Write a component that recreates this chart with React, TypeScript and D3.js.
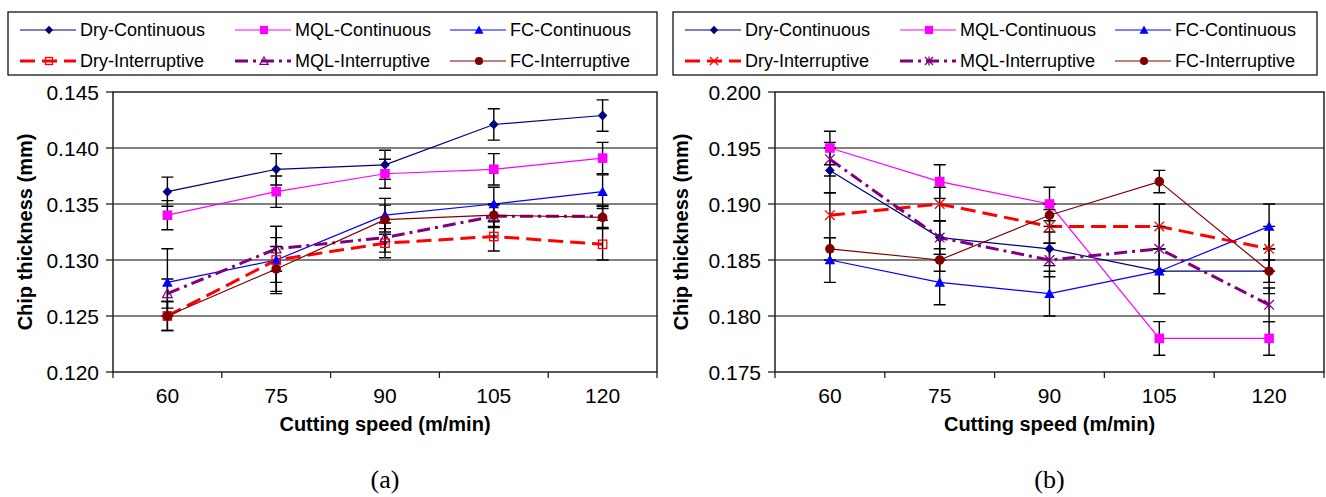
import React from 'react';
import * as d3 from 'd3';

// Cutting speeds (m/min)
const speeds = ['60', '75', '90', '105', '120'];
const seriesNames = [
  'Dry-Continuous',
  'MQL-Continuous',
  'FC-Continuous',
  'Dry-Interruptive',
  'MQL-Interruptive',
  'FC-Interruptive',
];

// Panel (a): chip thickness (mm) and error half-widths
const dryContA = [0.1361, 0.1381, 0.1385, 0.1421, 0.1429];
const mqlContA = [0.134, 0.1361, 0.1377, 0.1381, 0.1391];
const fcContA = [0.128, 0.130, 0.134, 0.135, 0.1361];
const dryIntA = [0.125, 0.130, 0.1315, 0.1321, 0.1314];
const mqlIntA = [0.127, 0.131, 0.132, 0.1339, 0.1339];
const fcIntA = [0.125, 0.1292, 0.1336, 0.134, 0.1338];

const dryContErrA = [0.0013, 0.0014, 0.0013, 0.0014, 0.0014];
const mqlContErrA = [0.0013, 0.0014, 0.0013, 0.0014, 0.0014];
const fcContErrA = [0.003, 0.003, 0.0015, 0.0015, 0.0015];
const dryIntErrA = [0.0013, 0.002, 0.0013, 0.0013, 0.0014];
const mqlIntErrA = [0.0013, 0.002, 0.0013, 0.001, 0.001];
const fcIntErrA = [0.0013, 0.002, 0.0013, 0.001, 0.001];

// Panel (b): chip thickness (mm) and error half-widths
const dryContB = [0.193, 0.187, 0.186, 0.184, 0.184];
const mqlContB = [0.195, 0.192, 0.190, 0.178, 0.178];
const fcContB = [0.185, 0.183, 0.182, 0.184, 0.188];
const dryIntB = [0.189, 0.190, 0.188, 0.188, 0.186];
const mqlIntB = [0.194, 0.187, 0.185, 0.186, 0.181];
const fcIntB = [0.186, 0.185, 0.189, 0.192, 0.184];

const dryContErrB = [0.002, 0.0015, 0.0015, 0.002, 0.002];
const mqlContErrB = [0.0015, 0.0015, 0.0015, 0.0015, 0.0015];
const fcContErrB = [0.002, 0.002, 0.002, 0.002, 0.002];
const dryIntErrB = [0.002, 0.0015, 0.0015, 0.002, 0.002];
const mqlIntErrB = [0.0015, 0.0015, 0.0015, 0.002, 0.0015];
const fcIntErrB = [0.001, 0.001, 0.001, 0.001, 0.001];

const yTicksA = [0.12, 0.125, 0.13, 0.135, 0.14, 0.145];
const yTicksB = [0.175, 0.18, 0.185, 0.19, 0.195, 0.2];

type MarkerType =
  | 'diamond'
  | 'square'
  | 'triangle'
  | 'openSquare'
  | 'openTriangle'
  | 'circle'
  | 'cross'
  | 'asterisk';

interface Style {
  color: string;
  width: number;
  dash?: string;
  marker: MarkerType;
}

const contStyles: Style[] = [
  { color: '#000080', width: 1.2, marker: 'diamond' },
  { color: '#FF00FF', width: 1.2, marker: 'square' },
  { color: '#0000FF', width: 1.2, marker: 'triangle' },
];

const stylesA: Style[] = [
  ...contStyles,
  { color: '#FF0000', width: 3, dash: '15,7', marker: 'openSquare' },
  { color: '#800080', width: 3, dash: '13,5,3,5', marker: 'openTriangle' },
  { color: '#800000', width: 1.2, marker: 'circle' },
];

const stylesB: Style[] = [
  ...contStyles,
  { color: '#FF0000', width: 3, dash: '15,7', marker: 'cross' },
  { color: '#800080', width: 3, dash: '13,5,3,5', marker: 'asterisk' },
  { color: '#800000', width: 1.2, marker: 'circle' },
];

const FONT = "'Liberation Sans', Arial, Helvetica, sans-serif";

function Marker({ type, x, y, color, s = 1 }: { type: MarkerType; x: number; y: number; color: string; s?: number }) {
  const r = 4.8 * s;
  switch (type) {
    case 'diamond':
      return <path d={`M${x},${y - r * 1.05}L${x + r},${y}L${x},${y + r * 1.05}L${x - r},${y}Z`} fill={color} />;
    case 'square':
      return <rect x={x - r} y={y - r} width={2 * r} height={2 * r} fill={color} />;
    case 'openSquare':
      return <rect x={x - r + 0.6} y={y - r + 0.6} width={2 * r - 1.2} height={2 * r - 1.2} fill="none" stroke={color} strokeWidth={1.3} />;
    case 'triangle':
      return <path d={`M${x},${y - r * 1.1}L${x + r * 1.1},${y + r * 0.9}L${x - r * 1.1},${y + r * 0.9}Z`} fill={color} />;
    case 'openTriangle':
      return <path d={`M${x},${y - r}L${x + r},${y + r * 0.85}L${x - r},${y + r * 0.85}Z`} fill="none" stroke={color} strokeWidth={1.2} />;
    case 'circle':
      return <circle cx={x} cy={y} r={r} fill={color} />;
    case 'cross':
      return (
        <path d={`M${x - r},${y - r}L${x + r},${y + r}M${x - r},${y + r}L${x + r},${y - r}`} stroke={color} strokeWidth={1.3} fill="none" />
      );
    case 'asterisk':
      return (
        <path
          d={`M${x - r},${y - r}L${x + r},${y + r}M${x - r},${y + r}L${x + r},${y - r}M${x},${y - r * 1.1}L${x},${y + r * 1.1}`}
          stroke={color}
          strokeWidth={1.3}
          fill="none"
        />
      );
  }
  return null;
}

interface PanelProps {
  left: number;
  right: number;
  top: number;
  bottom: number;
  domain: [number, number];
  ticks: number[];
  values: number[][];
  errors: number[][];
  styles: Style[];
  gridColor: string;
  gridWidth: number;
  legendX: number;
  legendW: number;
  yTitleX: number;
  caption: string;
}

function Panel(p: PanelProps) {
  const x = d3.scaleBand<string>().domain(speeds).range([p.left, p.right]).padding(0);
  const y = d3.scaleLinear().domain(p.domain).range([p.bottom, p.top]);
  const bw = x.bandwidth();
  const cx = (c: string) => (x(c) as number) + bw / 2;
  const fmt = d3.format('.3f');
  const line = d3
    .line<number>()
    .x((_, i) => cx(speeds[i]))
    .y((v) => y(v));
  const midX = (p.left + p.right) / 2;
  const midY = (p.top + p.bottom) / 2;
  const boundaries = speeds.map((c) => x(c) as number).concat([p.right]);
  const capW = 6;

  const legendTop = 12;
  const legendBottom = 75;
  const rowY = [30, 61];
  const colX = [12, 227, 442];

  return (
    <g>
      {/* legend */}
      <rect
        x={p.legendX}
        y={legendTop}
        width={p.legendW}
        height={legendBottom - legendTop}
        fill="#fff"
        stroke="#000"
        strokeWidth={1.2}
      />
      {seriesNames.map((name, i) => {
        const st = p.styles[i];
        const sx = p.legendX + colX[i % 3];
        const sy = rowY[Math.floor(i / 3)];
        return (
          <g key={name}>
            <line x1={sx} x2={sx + 56} y1={sy} y2={sy} stroke={st.color} strokeWidth={st.width} strokeDasharray={st.dash} />
            <Marker type={st.marker} x={sx + 29} y={sy} color={st.color} s={0.85} />
            <text x={sx + 60} y={sy} dy="0.36em" fontFamily={FONT} fontSize={18} fill="#000">
              {name}
            </text>
          </g>
        );
      })}

      {/* grid lines */}
      {p.ticks.slice(1, -1).map((t) => (
        <line key={t} x1={p.left} x2={p.right} y1={y(t)} y2={y(t)} stroke={p.gridColor} strokeWidth={p.gridWidth} />
      ))}

      {/* plot frame */}
      <rect x={p.left} y={p.top} width={p.right - p.left} height={p.bottom - p.top} fill="none" stroke="#222" strokeWidth={1.5} />

      {/* y axis */}
      {p.ticks.map((t) => (
        <g key={t}>
          <line x1={p.left - 7} x2={p.left} y1={y(t)} y2={y(t)} stroke="#222" strokeWidth={1.3} />
          <text x={p.left - 14} y={y(t)} dy="0.36em" textAnchor="end" fontFamily={FONT} fontSize={21} fill="#000">
            {fmt(t)}
          </text>
        </g>
      ))}
      <text
        transform={`translate(${p.yTitleX},${midY}) rotate(-90)`}
        textAnchor="middle"
        fontFamily={FONT}
        fontSize={20}
        fontWeight="bold"
        fill="#000"
      >
        Chip thickness (mm)
      </text>

      {/* x axis */}
      {boundaries.map((b, i) => (
        <line key={i} x1={b} x2={b} y1={p.bottom} y2={p.bottom + 6} stroke="#222" strokeWidth={1.3} />
      ))}
      {speeds.map((c) => (
        <text key={c} x={cx(c)} y={403} textAnchor="middle" fontFamily={FONT} fontSize={21} fill="#000">
          {c}
        </text>
      ))}
      <text x={midX} y={431} textAnchor="middle" fontFamily={FONT} fontSize={20} fontWeight="bold" fill="#000">
        Cutting speed (m/min)
      </text>

      {/* series: lines and error bars */}
      {p.values.map((vals, si) => {
        const st = p.styles[si];
        return (
          <g key={si}>
            <path d={line(vals) || ''} fill="none" stroke={st.color} strokeWidth={st.width} strokeDasharray={st.dash} />
            {vals.map((v, i) => {
              const e = p.errors[si][i];
              const xx = cx(speeds[i]);
              const y0 = y(v - e);
              const y1 = y(v + e);
              return (
                <path
                  key={i}
                  d={`M${xx},${y0}L${xx},${y1}M${xx - capW},${y0}L${xx + capW},${y0}M${xx - capW},${y1}L${xx + capW},${y1}`}
                  stroke="#000"
                  strokeWidth={1.4}
                  fill="none"
                />
              );
            })}
          </g>
        );
      })}
      {/* series: markers */}
      {p.values.map((vals, si) => {
        const st = p.styles[si];
        return (
          <g key={'m' + si}>
            {vals.map((v, i) => (
              <Marker key={i} type={st.marker} x={cx(speeds[i])} y={y(v)} color={st.color} />
            ))}
          </g>
        );
      })}

      {/* caption */}
      <text x={midX} y={488} textAnchor="middle" fontFamily="'Liberation Serif', 'Times New Roman', serif" fontSize={26} fill="#000">
        {p.caption}
      </text>
    </g>
  );
}

export default function App() {
  return (
    <svg
      width={1326}
      height={497}
      viewBox="0 0 1326 497"
      style={{ position: 'absolute', left: 0, top: 0, background: '#fff' }}
    >
      <rect x={0} y={0} width={1326} height={497} fill="#fff" />
      <Panel
        left={113}
        right={657}
        top={92}
        bottom={372}
        domain={[0.12, 0.145]}
        ticks={yTicksA}
        values={[dryContA, mqlContA, fcContA, dryIntA, mqlIntA, fcIntA]}
        errors={[dryContErrA, mqlContErrA, fcContErrA, dryIntErrA, mqlIntErrA, fcIntErrA]}
        styles={stylesA}
        gridColor="#808080"
        gridWidth={1.8}
        legendX={8}
        legendW={649}
        yTitleX={32}
        caption="(a)"
      />
      <Panel
        left={775}
        right={1324}
        top={92}
        bottom={372}
        domain={[0.175, 0.2]}
        ticks={yTicksB}
        values={[dryContB, mqlContB, fcContB, dryIntB, mqlIntB, fcIntB]}
        errors={[dryContErrB, mqlContErrB, fcContErrB, dryIntErrB, mqlIntErrB, fcIntErrB]}
        styles={stylesB}
        gridColor="#000"
        gridWidth={1.2}
        legendX={673}
        legendW={644}
        yTitleX={688}
        caption="(b)"
      />
    </svg>
  );
}
